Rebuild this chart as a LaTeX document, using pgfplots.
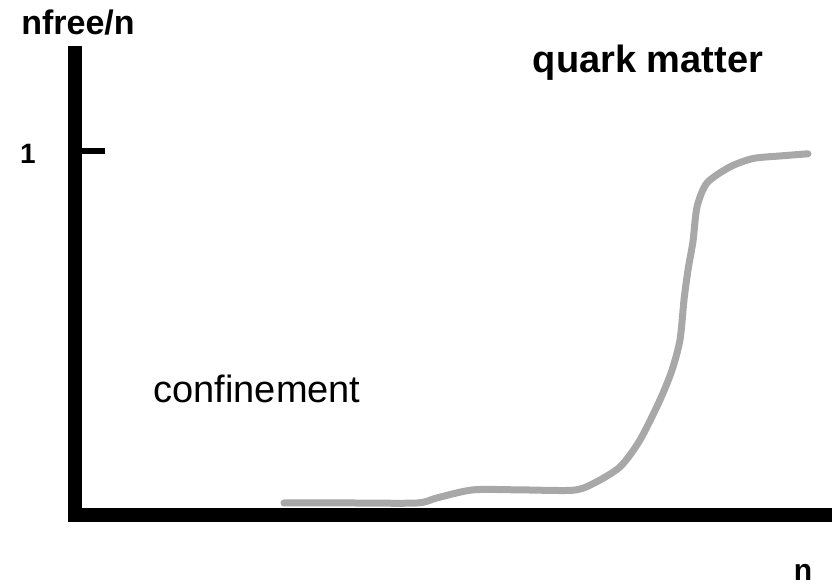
\documentclass[border=0pt]{standalone}
\usepackage{fontspec}
\setmainfont{Liberation Sans}
\usepackage{pgfplots}
\pgfplotsset{compat=1.18}
\definecolor{curvegray}{RGB}{168,168,168}
\begin{document}
\begin{tikzpicture}
\begin{axis}[
  scale only axis,
  width=757bp, height=469bp,
  xmin=0, xmax=757, ymin=0, ymax=1.288,
  enlargelimits=false,
  clip=false,
  axis lines=left,
  axis line style={-, line width=14bp, black},
  x axis line style={shorten <=-7bp},
  xtick=\empty,
  ytick={1}, yticklabels={\textbf{1}},
  tick align=inside,
  major tick length=30bp,
  major tick style={line width=6bp, black},
  yticklabel style={anchor=center, xshift=-47bp, yshift=-3bp, font=\fontsize{28bp}{30bp}\selectfont},
  xlabel={\textbf{n}}, ylabel={\textbf{nfree/n}},
  every axis x label/.style={at={(axis cs:728,-0.158)}, anchor=center, font=\fontsize{30bp}{32bp}\selectfont},
  every axis y label/.style={at={(axis cs:3,1.352)}, anchor=center, font=\fontsize{34bp}{36bp}\selectfont},
]
% fraction of free quarks versus density
\addplot[curvegray, line width=7bp, smooth, tension=0.45, line cap=round] coordinates {
  (209,0.033) (275,0.033) (342,0.033) (362,0.047) (398,0.069) (445,0.069)
  (498,0.068) (518,0.086) (545,0.132) (565,0.206) (585,0.316) (597,0.398)
  (605,0.481) (609,0.591) (613,0.673) (618,0.752) (622,0.846) (632,0.912)
  (655,0.956) (678,0.979) (705,0.986) (733,0.992)
};
\node[font=\fontsize{38bp}{40bp}\selectfont\bfseries] at (axis cs:573,1.242) {quark matter};
\node[font=\fontsize{38bp}{40bp}\selectfont] at (axis cs:182,0.346) {confinement};
\end{axis}
\pgfresetboundingbox
\useasboundingbox (-75bp,-72bp) rectangle (762bp,515bp);
\end{tikzpicture}
\end{document}
